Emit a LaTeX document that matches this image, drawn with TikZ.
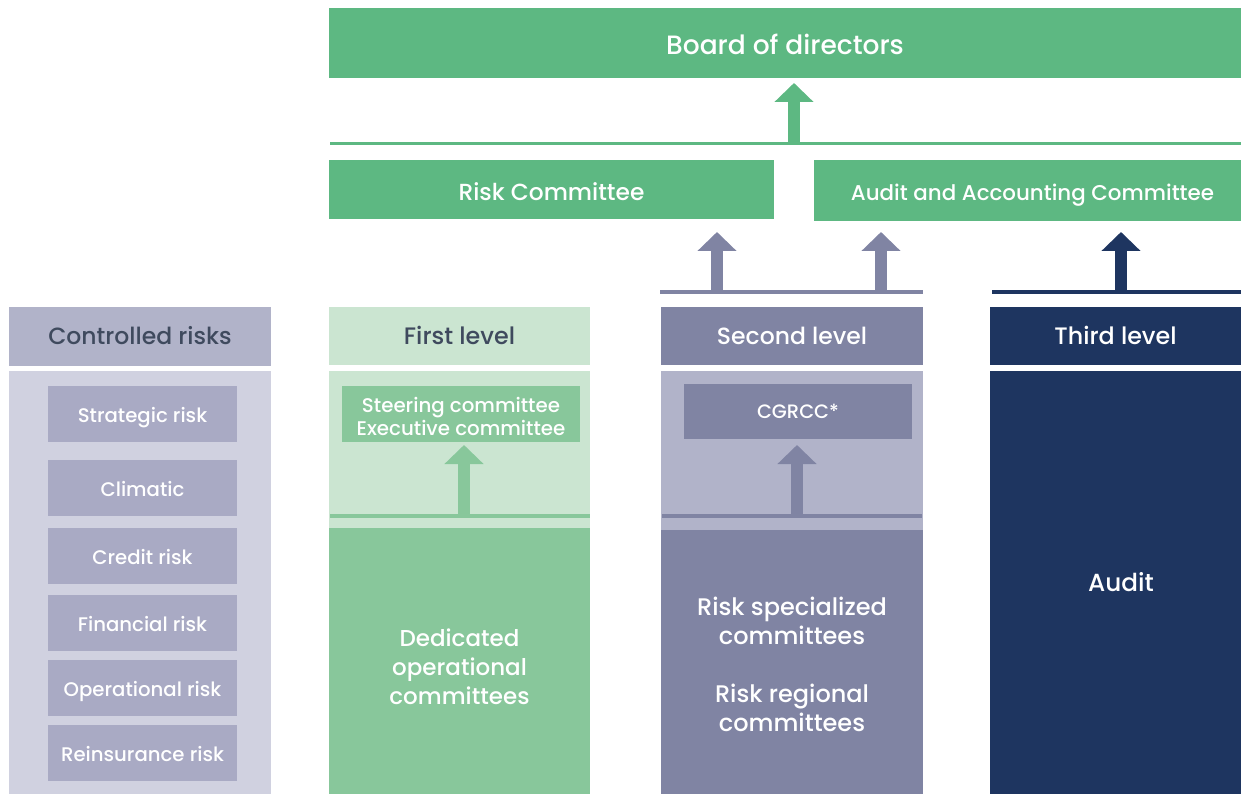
\documentclass[tikz,border=0pt]{standalone}
\usepackage{fontspec}
\setmainfont{Poppins Medium}
\usetikzlibrary{arrows.meta}
\definecolor{boardgreen}{HTML}{5DB882}
\definecolor{lightgreen}{HTML}{CBE5D1}
\definecolor{midgreen}{HTML}{88C79B}
\definecolor{slate}{HTML}{8084A3}
\definecolor{lightslate}{HTML}{B1B3C9}
\definecolor{paleslate}{HTML}{D0D1E0}
\definecolor{riskbox}{HTML}{A9AAC4}
\definecolor{navy}{HTML}{1E3560}
\definecolor{darktext}{HTML}{3F4A5E}
\newcommand{\lowerby}[2]{\raisebox{-#1}[\height][\depth]{\begin{tabular}{@{}c@{}}#2\end{tabular}}}
\tikzset{
  box/.style={rectangle, inner sep=0pt, outer sep=0pt, anchor=north west, align=center, text=white},
  fs/.style={font=\fontsize{#1}{#1}\selectfont, text height={0.7*#1pt}, text depth=0pt},
  fsd/.style 2 args={font=\fontsize{#1}{#1}\selectfont, text height={0.7*#1pt+2*#2pt}, text depth=0pt},
  bigarrow/.style={line width=12pt, -{Triangle[width=38pt,length=19pt]}},
  hline/.style={line width=4pt},
}
\begin{document}
\begin{tikzpicture}[x=1pt,y=-1pt]
\useasboundingbox (0,0) rectangle (1241,794);
% top
\node[box, fill=boardgreen, minimum width=912pt, minimum height=70pt, fsd={26.5}{2}] (board) at (329,8) {Board of directors};
\node[box, fill=boardgreen, minimum width=445pt, minimum height=59pt, fsd={23.3}{2.5}] (riskc) at (329,160) {Risk Committee};
\node[box, fill=boardgreen, minimum width=427pt, minimum height=61pt, fsd={21.4}{2.5}] (auditc) at (814,160) {\hspace*{10pt}Audit and Accounting Committee};
\coordinate (tl1) at (330,143.5);
\coordinate (tl2) at (1241,143.5);
\draw[hline, line width=3pt, boardgreen] (tl1) -- (tl2);
\coordinate (tarr) at (794,143.5);
\draw[bigarrow, boardgreen] (tarr) -- (794,83);
% headers
\node[box, fill=lightslate, minimum width=262pt, minimum height=59pt, fs=23.5, text=darktext] (ctrlh) at (9,307) {Controlled risks};
\node[box, fill=lightgreen, minimum width=261pt, minimum height=58pt, fs=23.8, text=darktext] (firsth) at (329,307) {First level};
\node[box, fill=slate, minimum width=262pt, minimum height=58pt, fs=23.5] (secondh) at (661,307) {Second level};
\node[box, fill=navy, minimum width=251pt, minimum height=58pt, fs=23.8] (thirdh) at (990,307) {Third level};
% second level arrows
\coordinate (sl1) at (660,292);
\coordinate (sl2) at (923,292);
\draw[hline, slate] (sl1) -- (sl2);
\coordinate (sa1) at (717,292);
\coordinate (sa2) at (881,292);
\draw[bigarrow, slate] (sa1) -- (717,232);
\draw[bigarrow, slate] (sa2) -- (881,232);
% third level arrow
\coordinate (nl1) at (992,292);
\coordinate (nl2) at (1241,292);
\draw[hline, navy] (nl1) -- (nl2);
\coordinate (na) at (1121,292);
\draw[bigarrow, navy] (na) -- (1121,232);
% controlled risks body
\node[box, fill=paleslate, minimum width=262pt, minimum height=423pt] (ctrlb) at (9,371) {};
\foreach \y/\t/\n in {386/Strategic risk/r1, 460/Climatic/r2, 528/Credit risk/r3, 595/Financial risk/r4, 660/Operational risk/r5, 725/Reinsurance risk/r6}{
  \node[box, fill=riskbox, minimum width=189pt, minimum height=56pt, fsd={19.7}{1.5}] (\n) at (48,\y) {\t};
}
% first level body
\node[box, fill=lightgreen, minimum width=261pt, minimum height=157pt] (firstu) at (329,371) {};
\node[box, fill=midgreen, minimum width=261pt, minimum height=266pt, font=\fontsize{23}{29}\selectfont] (firstb) at (329,528) {\lowerby{9pt}{Dedicated\\operational\\committees}};
\node[box, fill=midgreen, minimum width=238pt, minimum height=56pt, font=\fontsize{19.8}{23}\selectfont] (steer) at (342,386) {\lowerby{5pt}{Steering committee\\Executive committee}};
\coordinate (fl1) at (330,516);
\coordinate (fl2) at (590,516);
\draw[hline, midgreen] (fl1) -- (fl2);
\coordinate (fa) at (464,516);
\draw[bigarrow, midgreen] (fa) -- (464,445);
% second level body
\node[box, fill=lightslate, minimum width=262pt, minimum height=159pt] (secondu) at (661,371) {};
\node[box, fill=slate, minimum width=262pt, minimum height=264pt, font=\fontsize{24}{29}\selectfont] (secondb) at (661,530) {\lowerby{5.5pt}{Risk specialized\\committees\\[29pt]Risk regional\\committees}};
\node[box, fill=slate, minimum width=228pt, minimum height=55pt, fs=19.4] (cgrcc) at (684,384) {CGRCC*};
\coordinate (scl1) at (662,516);
\coordinate (scl2) at (922,516);
\draw[hline, slate] (scl1) -- (scl2);
\coordinate (sca) at (797,516);
\draw[bigarrow, slate] (sca) -- (797,445);
% third level body
\node[box, fill=navy, minimum width=251pt, minimum height=423pt, fs=24.7] (thirdb) at (990,371) {\hspace*{11pt}Audit};
\end{tikzpicture}
\end{document}
